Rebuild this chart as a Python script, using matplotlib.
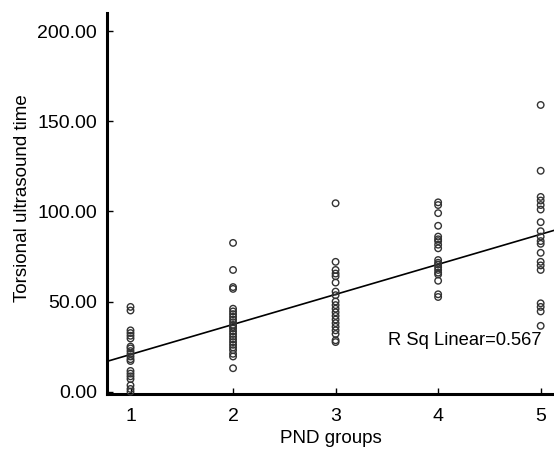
import numpy as np
import matplotlib
matplotlib.use("Agg")
import matplotlib.pyplot as plt

plt.rcParams['font.family'] = ['Liberation Sans', 'DejaVu Sans']

# Data (PND group -> torsional ultrasound time)
group1 = [47, 45, 34, 32.5, 31, 29.5, 25, 24, 22.5, 21, 19.5, 18, 17,
          11.5, 10, 8.5, 7, 3.5, 1.5, 0]
group2 = [82.5, 67.5, 58, 57, 46, 44.5, 43, 41.5, 40, 38.5, 37, 36, 35,
          33.5, 32, 30.5, 29, 27.5, 26, 24.5, 23, 21, 19.5, 13]
group3 = [104.5, 72, 67.5, 65.5, 64, 60.5, 55.5, 53.5, 50, 48, 46, 44, 42,
          40, 38, 36, 34, 32, 28.5, 27.5]
group4 = [105, 103.5, 99, 92, 86, 84.5, 83.5, 81.5, 79.5, 73, 71.5, 70.5,
          69, 67.5, 66, 65, 61.5, 54, 52.5]
group5 = [159, 122.5, 108, 106, 103.5, 101, 94, 89, 86, 83.5, 82, 77, 72,
          70, 67.5, 49, 47, 44.5, 36.5]
groups = [1, 2, 3, 4, 5]
y_ticks = [0, 50, 100, 150, 200]
r2_label = "R Sq Linear=0.567"

all_vals = [group1, group2, group3, group4, group5]
x = np.concatenate([[g] * len(v) for g, v in zip(groups, all_vals)]).astype(float)
y = np.concatenate([np.asarray(v, float) for v in all_vals])

fig = plt.figure(figsize=(5.54, 4.49), dpi=100)
ax = fig.add_axes([0.193, 0.1225, 0.807, 0.8485])

ax.scatter(x, y, s=22, facecolors='none', edgecolors='#333333',
           linewidths=1.0, zorder=3, clip_on=False)

xmin, xmax = 0.77, 5.13
ymin, ymax = -1.3, 210
slope, intercept = np.polyfit(x, y, 1)
xl = np.array([xmin, xmax])
ax.plot(xl, intercept + slope * xl, color='black', lw=1.2, zorder=2)

ax.text(3.51, 28.5, r2_label, fontsize=13.2, va='center', ha='left')

ax.set_xlim(xmin, xmax)
ax.set_ylim(ymin, ymax)
ax.set_xticks(groups)
ax.set_xticklabels([str(g) for g in groups])
ax.set_yticks(y_ticks)
ax.set_yticklabels([f"{t:.2f}" for t in y_ticks])
ax.tick_params(axis='both', direction='in', length=4, width=1, labelsize=14)
ax.tick_params(axis='y', pad=7)
ax.tick_params(axis='x', pad=10)

for side in ['top', 'right']:
    ax.spines[side].set_visible(False)
for side in ['left', 'bottom']:
    ax.spines[side].set_linewidth(2.2)

ax.set_xlabel("PND groups", fontsize=13.5, labelpad=4)
ax.set_ylabel("Torsional ultrasound time", fontsize=13.5, labelpad=5)
ax.yaxis.set_label_coords(-0.17, 0.514)

fig.savefig("out.png", dpi=100)
